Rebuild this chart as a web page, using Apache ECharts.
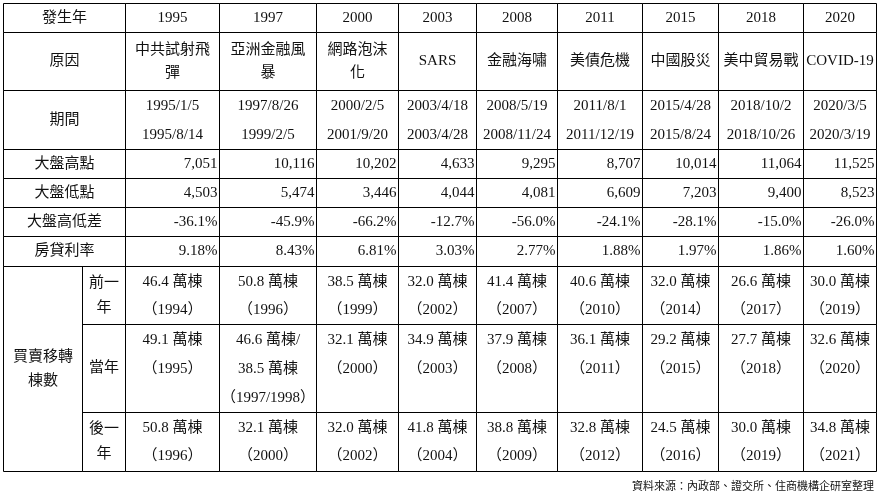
<!DOCTYPE html>
<html><head><meta charset="utf-8">
<script src="https://cdn.jsdelivr.net/npm/echarts@6/dist/echarts.min.js"></script>
<style>html,body{margin:0;padding:0;background:#fff}#c{width:880px;height:499px}</style>
</head><body><div id="c"></div>
<script>
// 表格內容
var years = ['1995','1997','2000','2003','2008','2011','2015','2018','2020'];
var reasons = ['中共試射飛\n彈','亞洲金融風\n暴','網路泡沫\n化','SARS','金融海嘯','美債危機','中國股災','美中貿易戰','COVID-19'];
var startDates = ['1995/1/5','1997/8/26','2000/2/5','2003/4/18','2008/5/19','2011/8/1','2015/4/28','2018/10/2','2020/3/5'];
var endDates = ['1995/8/14','1999/2/5','2001/9/20','2003/4/28','2008/11/24','2011/12/19','2015/8/24','2018/10/26','2020/3/19'];
var highs = [7051,10116,10202,4633,9295,8707,10014,11064,11525];
var lows = [4503,5474,3446,4044,4081,6609,7203,9400,8523];
var diffs = [-36.1,-45.9,-66.2,-12.7,-56.0,-24.1,-28.1,-15.0,-26.0];
var rates = [9.18,8.43,6.81,3.03,2.77,1.88,1.97,1.86,1.60];
var prevYear = ['46.4 萬棟\n（1994）','50.8 萬棟\n（1996）','38.5 萬棟\n（1999）','32.0 萬棟\n（2002）','41.4 萬棟\n（2007）','40.6 萬棟\n（2010）','32.0 萬棟\n（2014）','26.6 萬棟\n（2017）','30.0 萬棟\n（2019）'];
var curYear = ['49.1 萬棟\n（1995）','46.6 萬棟/\n38.5 萬棟\n（1997/1998）','32.1 萬棟\n（2000）','34.9 萬棟\n（2003）','37.9 萬棟\n（2008）','36.1 萬棟\n（2011）','29.2 萬棟\n（2015）','27.7 萬棟\n（2018）','32.6 萬棟\n（2020）'];
var nextYear = ['50.8 萬棟\n（1996）','32.1 萬棟\n（2000）','32.0 萬棟\n（2002）','41.8 萬棟\n（2004）','38.8 萬棟\n（2009）','32.8 萬棟\n（2012）','24.5 萬棟\n（2016）','30.0 萬棟\n（2019）','34.8 萬棟\n（2021）'];
var sourceText = '資料來源：內政部、證交所、住商機構企研室整理';

// 版面格線
var colEdges = [3,82,125,219,316,398,476,557,642,718,803,876];
var rowEdges = [3,32,90,149,178,207,236,266,324,412,471];

function fmt(n){ return n.toString().replace(/\B(?=(\d{3})+(?!\d))/g, ','); }

// cell: [c0,c1,r0,r1,text,align,mode,lineHeight]
var cells = [];
cells.push([0,2,0,1,'發生年','center','mid',20]);
cells.push([0,2,1,2,'原因','center','mid',20]);
cells.push([0,2,2,3,'期間','center','mid',20]);
cells.push([0,2,3,4,'大盤高點','center','mid',20]);
cells.push([0,2,4,5,'大盤低點','center','mid',20]);
cells.push([0,2,5,6,'大盤高低差','center','mid',20]);
cells.push([0,2,6,7,'房貸利率','center','mid',20]);
cells.push([0,1,7,10,'買賣移轉\n棟數','center','mid',24]);
cells.push([1,2,7,8,'前一\n年','center','mid',25]);
cells.push([1,2,8,9,'當年','center','mid',20]);
cells.push([1,2,9,10,'後一\n年','center','mid',25]);
years.forEach(function(y,i){
    var c = i + 2;
    cells.push([c,c+1,0,1,y,'center','mid',20]);
    cells.push([c,c+1,1,2,reasons[i],'center','mid',23]);
    cells.push([c,c+1,2,3,startDates[i]+'\n'+endDates[i],'center','top',29]);
    cells.push([c,c+1,3,4,fmt(highs[i]),'right','mid',20]);
    cells.push([c,c+1,4,5,fmt(lows[i]),'right','mid',20]);
    cells.push([c,c+1,5,6,diffs[i].toFixed(1)+'%','right','mid',20]);
    cells.push([c,c+1,6,7,rates[i].toFixed(2)+'%','right','mid',20]);
    cells.push([c,c+1,7,8,prevYear[i],'center','top',28]);
    cells.push([c,c+1,8,9,curYear[i],'center','top',29]);
    cells.push([c,c+1,9,10,nextYear[i],'center','top',28]);
});

var font = '"Liberation Serif","Noto Sans CJK TC",serif';

var chart = echarts.init(document.getElementById('c'));
chart.setOption({
    backgroundColor:'#fff',
    animation:false,
    grid:{left:0,right:0,top:0,bottom:0},
    xAxis:{type:'value',min:0,max:880,show:false},
    yAxis:{type:'value',min:0,max:499,inverse:true,show:false},
    series:[{
        type:'custom',
        data:cells.map(function(c){ return [colEdges[c[0]],rowEdges[c[2]],colEdges[c[1]],rowEdges[c[3]]]; }),
        renderItem:function(params,api){
            var cell = cells[params.dataIndex];
            var p0 = api.coord([api.value(0),api.value(1)]);
            var p1 = api.coord([api.value(2),api.value(3)]);
            var x0 = Math.round(p0[0])+0.5, y0 = Math.round(p0[1])+0.5;
            var w = Math.round(p1[0]-p0[0]), h = Math.round(p1[1]-p0[1]);
            var tx = cell[5]==='right' ? x0+w-2 : x0+w/2;
            var ty, va;
            if(cell[6]==='top'){ ty = y0+16-cell[7]/2; va='top'; }
            else { ty = y0+h/2; va='middle'; }
            return {type:'group',children:[
                {type:'rect',shape:{x:x0,y:y0,width:w,height:h},style:{fill:null,stroke:'#000',lineWidth:1}},
                {type:'text',style:{x:tx,y:ty,text:cell[4],align:cell[5],verticalAlign:va,
                    lineHeight:cell[7],font:'15px '+font,fill:'#111'}}
            ]};
        }
    }],
    graphic:[{type:'text',right:6,top:480,style:{text:sourceText,font:'11px "Noto Sans CJK TC"',fill:'#111'}}]
});
</script>
</body></html>
